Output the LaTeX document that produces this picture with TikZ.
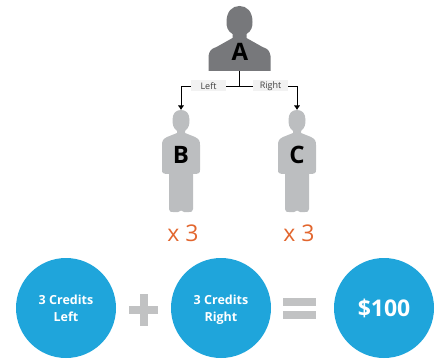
\documentclass[tikz,border=0pt]{standalone}
\usepackage{fontspec}
\usetikzlibrary{arrows.meta}
\setmainfont{Open Sans}
\definecolor{bossgray}{HTML}{77787B}
\definecolor{mangray}{HTML}{BCBEC0}
\definecolor{signgray}{HTML}{C1C2C3}
\definecolor{credblue}{HTML}{1FA5DB}
\definecolor{timesorange}{HTML}{E2662E}
\definecolor{boxgray}{HTML}{F2F2F2}
\tikzset{
  mantext/.style={font=\fontsize{24}{24}\selectfont\bfseries,text=black,inner sep=0pt},
  sidelabel/.style={font=\fontsize{9}{9}\selectfont,text=black!75,fill=boxgray,minimum width=35pt,minimum height=11pt,inner sep=0pt},
  timestext/.style={font=\fontsize{23}{23}\selectfont,text=timesorange,inner sep=0pt},
  credit/.style={circle,fill=credblue,minimum size=100pt,inner sep=0pt,align=center,text=white,font=\fontsize{12.5}{17}\selectfont\bfseries},
  twolines/.style={text depth=-3pt},
  sign/.style={fill=signgray,draw=none,inner sep=0pt},
  link/.style={line width=.9pt},
  linkarrow/.style={link,-{Latex[width=6.5pt,length=4.5pt]}}
}
\begin{document}
\begin{tikzpicture}[x=1pt,y=-1pt]
\useasboundingbox (0,0) rectangle (438,358);
% Chef oben
\fill[bossgray,shift={(239.5,0)}] (-7,34) .. controls (-12,31) and (-13,27) .. (-13,22)
  .. controls (-13,11) and (-7,6) .. (0,6) .. controls (7,6) and (13,11) .. (13,22)
  .. controls (13,27) and (12,31) .. (7,34) -- (7,38) -- (23,47)
  .. controls (29,49) and (30,51) .. (31,56) -- (31,71) -- (-31,71) -- (-31,56)
  .. controls (-30,51) and (-29,49) .. (-23,47) -- (-7,38) -- cycle;
\node[mantext] (a) at (240,52) {A};
\coordinate (afoot) at (239.5,71);
% Personen unten
\foreach \x/\n/\t in {181/b/B,297/c/C}{
\fill[mangray,shift={(\x,0)}] (-4,131) .. controls (-8,128) and (-8.5,124) .. (-8.5,120)
  .. controls (-8.5,113) and (-5,110) .. (0,110) .. controls (5,110) and (8.5,113) .. (8.5,120)
  .. controls (8.5,124) and (8,128) .. (4,131) -- (4,133) -- (14,137)
  .. controls (18,139) and (19,141) .. (19,145) -- (19,170) .. controls (19,173) and (18,174) .. (12,174)
  -- (12,209) .. controls (12,212) and (10,212) .. (8,212) -- (3,212) -- (0,210.5) -- (-3,212) -- (-8,212)
  .. controls (-10,212) and (-12,212) .. (-12,209) -- (-12,174)
  .. controls (-18,174) and (-19,173) .. (-19,170) -- (-19,145)
  .. controls (-19,141) and (-18,139) .. (-14,137) -- (-4,133) -- cycle;
\node[mantext] (\n) at (\x,155) {\t};
\coordinate (\n top) at (\x,110);
\node[timestext] (\n times) at (\x+2,233) {x 3};
}
% Verbindungen
\coordinate (fork) at (239.5,86);
\node[sidelabel] (left) at (208.5,86) {Left};
\node[sidelabel] (right) at (270.5,86) {Right};
\draw[link] (afoot) -- (fork);
\draw[link] (left.east) -- (right.west);
\draw[linkarrow] (left.west) -| (btop);
\draw[linkarrow] (right.east) -| (ctop);
% Summe
\node[credit,twolines] (cleft) at (66,308) {3 Credits\\Left};
\node[sign,minimum width=29pt,minimum height=8pt] (plush) at (143.5,309.5) {};
\node[sign,minimum width=8pt,minimum height=32pt] (plusv) at (143.5,309.5) {};
\node[credit,twolines] (cright) at (221,308) {3 Credits\\Right};
\node[sign,minimum width=33pt,minimum height=8pt] (eqa) at (299.5,302) {};
\node[sign,minimum width=33pt,minimum height=8pt] (eqb) at (299.5,315) {};
\node[credit,font=\fontsize{23}{23}\selectfont\bfseries] (total) at (384,308) {\$100};
\end{tikzpicture}
\end{document}
